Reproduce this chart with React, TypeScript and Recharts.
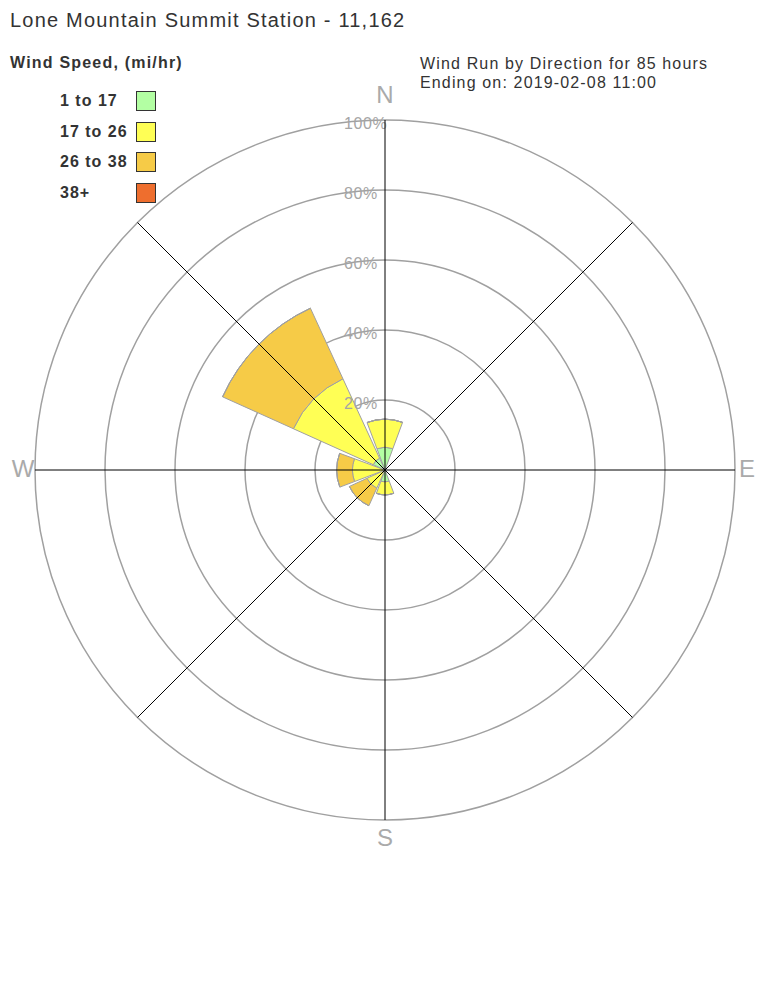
import React from "react";
import {
  RadialBarChart,
  RadialBar,
  PolarGrid,
  PolarAngleAxis,
  PolarRadiusAxis,
  Legend,
} from "recharts";

// wind directions, clockwise from north
const directions = ["N", "NE", "E", "SE", "S", "SW", "W", "NW"];

// percent of wind run per speed bin
const speed1to17 = [6.5, 0, 0, 0, 3.4, 0.5, 0.5, 3.7];
const speed17to26 = [8.0, 0, 0, 0, 3.7, 5.2, 8.8, 25.0];
const speed26to38 = [0, 0, 0, 0, 0, 5.5, 4.5, 22.2];
const speed38plus = [0, 0, 0, 0, 0, 0, 0, 0];

const bins = [
  { key: "b1", name: "1 to 17", color: "#b3ffa3", values: speed1to17 },
  { key: "b2", name: "17 to 26", color: "#ffff55", values: speed17to26 },
  { key: "b3", name: "26 to 38", color: "#f6cb47", values: speed26to38 },
  { key: "b4", name: "38+", color: "#ee6e2e", values: speed38plus },
];

const radiusTicks = [0, 20, 40, 60, 80, 100];
const compassLabels = ["N", "E", "S", "W"];

const data = directions.map((dir, i) => {
  const row: Record<string, string | number> = { dir };
  bins.forEach((b) => {
    row[b.key] = b.values[i];
  });
  return row;
});

const W = 768;
const H = 1008;
const CX = 385;
const CY = 470;
const R = 350;
const STEP = 360 / directions.length;
const FONT = "Arial, 'Liberation Sans', Helvetica, sans-serif";

// recharts puts category ticks at the band edge; spokes go through the band middle
const spokeAngles = directions.map((_, i) => 90 - i * STEP);

function CompassTick(props: any) {
  const { payload } = props;
  if (!compassLabels.includes(payload.value)) return null;
  const rad = ((payload.coordinate + STEP / 2) * Math.PI) / 180;
  const ux = Math.cos(rad);
  const uy = -Math.sin(rad);
  const d = R + 12 + (uy < 0 ? 12 : 7) * Math.abs(uy);
  return (
    <text
      x={CX + ux * d}
      y={CY + uy * d - 2}
      textAnchor="middle"
      dominantBaseline="central"
      fill="#aaaaaa"
      fontSize={24}
      fontFamily={FONT}
    >
      {payload.value}
    </text>
  );
}

function RadiusTick(props: any) {
  const { x, y, payload } = props;
  if (payload.value === 0) return null;
  return (
    <text
      x={x - 41}
      y={y + 3}
      textAnchor="start"
      dominantBaseline="central"
      fill="#a5a5a5"
      fontSize={16}
      letterSpacing={0.6}
      fontFamily={FONT}
    >
      {payload.value}%
    </text>
  );
}

function SpeedLegend() {
  return (
    <div style={{ fontFamily: FONT, color: "#333" }}>
      {bins.map((b) => (
        <div
          key={b.key}
          style={{ display: "flex", alignItems: "center", height: 30.5 }}
        >
          <span
            style={{
              width: 76,
              fontWeight: "bold",
              fontSize: 16,
              letterSpacing: 1,
              whiteSpace: "nowrap",
            }}
          >
            {b.name}
          </span>
          <span
            style={{
              width: 18,
              height: 18,
              background: b.color,
              border: "1.5px solid #333",
              display: "inline-block",
            }}
          />
        </div>
      ))}
    </div>
  );
}

export default function App() {
  return (
    <div
      style={{
        position: "absolute",
        top: 0,
        left: 0,
        width: W,
        height: H,
        background: "#fff",
        fontFamily: FONT,
      }}
    >
      <div
        style={{
          position: "absolute",
          left: 10,
          top: 9,
          fontSize: 20,
          letterSpacing: 1.2,
          color: "#333",
          whiteSpace: "nowrap",
        }}
      >
        Lone Mountain Summit Station - 11,162
      </div>
      <div
        style={{
          position: "absolute",
          left: 10,
          top: 54,
          fontSize: 16,
          fontWeight: "bold",
          letterSpacing: 1.2,
          color: "#333",
          whiteSpace: "nowrap",
        }}
      >
        Wind Speed, (mi/hr)
      </div>
      <div
        style={{
          position: "absolute",
          left: 420,
          top: 54,
          fontSize: 16,
          lineHeight: "19px",
          letterSpacing: 1.15,
          color: "#333",
          whiteSpace: "nowrap",
        }}
      >
        Wind Run by Direction for 85 hours
        <br />
        Ending on: 2019-02-08 11:00
      </div>
      <div style={{ position: "absolute", left: 0, top: 0 }}>
        <RadialBarChart
          width={W}
          height={H}
          data={data}
          layout="centric"
          cx={CX}
          cy={CY}
          innerRadius={0}
          outerRadius={R}
          startAngle={90 - STEP / 2}
          endAngle={90 - STEP / 2 - 360}
          barCategoryGap="5%"
          margin={{ top: 0, right: 0, bottom: 0, left: 0 }}
        >
          <PolarGrid
            gridType="circle"
            radialLines={false}
            stroke="#a0a0a0"
            strokeWidth={1.5}
          />
          <PolarAngleAxis
            type="category"
            dataKey="dir"
            axisLine={false}
            tickLine={false}
            tick={<CompassTick />}
          />
          <PolarRadiusAxis
            type="number"
            domain={[0, 100]}
            ticks={radiusTicks}
            tickCount={6}
            angle={90}
            axisLine={false}
            tickLine={false}
            tick={<RadiusTick />}
          />
          {bins.map((b) => (
            <RadialBar
              key={b.key}
              dataKey={b.key}
              name={b.name}
              stackId="speed"
              fill={b.color}
              stroke="#a0a0a0"
              strokeWidth={1}
              isAnimationActive={false}
            />
          ))}
          <PolarGrid
            polarRadius={[]}
            polarAngles={spokeAngles}
            stroke="#000"
            strokeWidth={1}
            {...({ zIndex: 2000 } as any)}
          />
          <Legend
            content={() => <SpeedLegend />}
            wrapperStyle={{ position: "absolute", left: 60, top: 86, width: 110 }}
          />
        </RadialBarChart>
      </div>
    </div>
  );
}
